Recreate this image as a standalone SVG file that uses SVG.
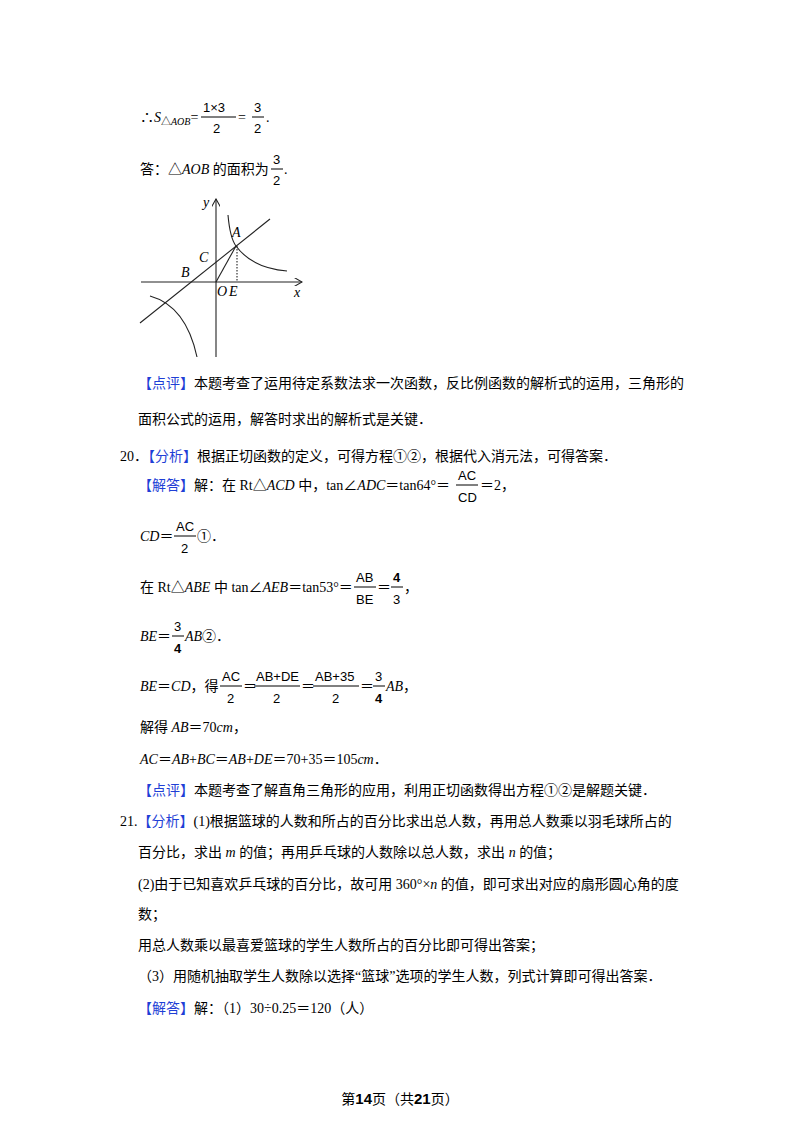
<svg xmlns="http://www.w3.org/2000/svg" width="800" height="1132" viewBox="0 0 800 1132">
<style>
text{font-family:"Liberation Serif","Noto Sans CJK SC",serif;font-size:14px;fill:#000}
.i{font-style:italic}
.b{fill:#1f3fd6}
.s{font-family:"Liberation Sans","Noto Sans CJK SC",sans-serif;font-size:13px}
.f{stroke:#000;stroke-width:1}
.g{fill:none;stroke:#222;stroke-width:1.1}
</style>
<rect width="800" height="1132" fill="#fff"/>
<g id="text1">
<text x="140" y="122">∴<tspan class="i">S</tspan><tspan font-size="10" dy="3">△<tspan class="i">AOB</tspan></tspan><tspan dy="-3">=</tspan></text>
<text x="203" y="112" class="s">1×3</text><line class="f" x1="201" y1="117" x2="236" y2="117"/><text x="213" y="133" class="s">2</text>
<text x="238" y="122">=</text>
<text x="254" y="112" class="s">3</text><line class="f" x1="252" y1="117" x2="264" y2="117"/><text x="254" y="133" class="s">2</text>
<text x="266" y="122">.</text>
<text x="140" y="174">答：△<tspan class="i">AOB</tspan> 的面积为</text>
<text x="273" y="164" class="s">3</text><line class="f" x1="271" y1="169" x2="283" y2="169"/><text x="273" y="185" class="s">2</text>
<text x="284" y="174">.</text>
</g>
<g id="graph">
<defs><marker id="ar" markerWidth="8" markerHeight="8" refX="7" refY="4" orient="auto"><path d="M0,0 L7,4 L0,8" fill="none" stroke="#222"/></marker></defs>
<line class="g" x1="141" y1="282" x2="302" y2="282" marker-end="url(#ar)"/>
<line class="g" x1="216" y1="357" x2="216" y2="199" marker-end="url(#ar)"/>
<line class="g" x1="140" y1="323" x2="270" y2="219"/>
<line class="g" x1="216" y1="282" x2="236" y2="246"/>
<line class="g" x1="237" y1="246" x2="237" y2="282" stroke-dasharray="1.5,1.5"/>
<path class="g" d="M228,215 Q230,238 236,246 Q252,268 287,271"/>
<path class="g" d="M150,296 Q186,306 197,357"/>
<text x="203" y="207" class="i" font-size="13">y</text>
<text x="232" y="237" class="i" font-size="12">A</text>
<text x="199" y="262" class="i" font-size="13">C</text>
<text x="181" y="277" class="i" font-size="13">B</text>
<text x="217" y="296" class="i" font-size="13">O</text>
<text x="229" y="296" class="i" font-size="13">E</text>
<text x="294" y="297" class="i" font-size="12">x</text>
</g>
<g id="text2">
<text x="138" y="388"><tspan class="b">【点评】</tspan>本题考查了运用待定系数法求一次函数，反比例函数的解析式的运用，三角形的</text>
<text x="138" y="424">面积公式的运用，解答时求出的解析式是关键．</text>
<text x="120" y="461">20．<tspan class="b">【分析】</tspan>根据正切函数的定义，可得方程①②，根据代入消元法，可得答案．</text>
<text x="138" y="490"><tspan class="b">【解答】</tspan>解：在 Rt△<tspan class="i">ACD</tspan> 中，tan∠<tspan class="i">ADC</tspan>＝tan64°＝</text>
<text x="458" y="480" class="s">AC</text><line class="f" x1="456" y1="485" x2="478" y2="485"/><text x="458" y="502" class="s">CD</text>
<text x="480" y="490">＝2，</text>
<text x="140" y="541"><tspan class="i">CD</tspan>＝</text>
<text x="176" y="531" class="s">AC</text><line class="f" x1="174" y1="536" x2="196" y2="536"/><text x="181" y="553" class="s">2</text>
<text x="197" y="541">①．</text>
<text x="140" y="592">在 Rt△<tspan class="i">ABE</tspan> 中 tan∠<tspan class="i">AEB</tspan>＝tan53°＝</text>
<text x="356" y="582" class="s">AB</text><line class="f" x1="354" y1="587" x2="376" y2="587"/><text x="356" y="604" class="s">BE</text>
<text x="377" y="592">＝</text>
<text x="393" y="582" class="s" font-weight="bold">4</text><line class="f" x1="391" y1="587" x2="403" y2="587"/><text x="393" y="604" class="s">3</text>
<text x="404" y="592">，</text>
<text x="140" y="641"><tspan class="i">BE</tspan>＝</text>
<text x="174" y="631" class="s">3</text><line class="f" x1="172" y1="636" x2="184" y2="636"/><text x="174" y="653" class="s" font-weight="bold">4</text>
<text x="185" y="641"><tspan class="i">AB</tspan>②．</text>
<text x="140" y="691"><tspan class="i">BE</tspan>＝<tspan class="i">CD</tspan>，得</text>
<text x="222" y="681" class="s">AC</text><line class="f" x1="220" y1="686" x2="242" y2="686"/><text x="227" y="703" class="s">2</text>
<text x="243" y="691">＝</text>
<text x="256" y="681" class="s">AB+DE</text><line class="f" x1="254" y1="686" x2="300" y2="686"/><text x="273" y="703" class="s">2</text>
<text x="301" y="691">＝</text>
<text x="315" y="681" class="s">AB+35</text><line class="f" x1="313" y1="686" x2="359" y2="686"/><text x="332" y="703" class="s">2</text>
<text x="360" y="691">＝</text>
<text x="375" y="681" class="s">3</text><line class="f" x1="373" y1="686" x2="385" y2="686"/><text x="375" y="703" class="s" font-weight="bold">4</text>
<text x="386" y="691"><tspan class="i">AB</tspan>，</text>
<text x="140" y="732">解得 <tspan class="i">AB</tspan>＝70<tspan class="i">cm</tspan>，</text>
<text x="140" y="764"><tspan class="i">AC</tspan>＝<tspan class="i">AB</tspan>+<tspan class="i">BC</tspan>＝<tspan class="i">AB</tspan>+<tspan class="i">DE</tspan>＝70+35＝105<tspan class="i">cm</tspan>．</text>
<text x="138" y="795"><tspan class="b">【点评】</tspan>本题考查了解直角三角形的应用，利用正切函数得出方程①②是解题关键．</text>
<text x="120" y="826">21.<tspan class="b">【分析】</tspan>(1)根据篮球的人数和所占的百分比求出总人数，再用总人数乘以羽毛球所占的</text>
<text x="138" y="857">百分比，求出 <tspan class="i">m</tspan> 的值；再用乒乓球的人数除以总人数，求出 <tspan class="i">n</tspan> 的值；</text>
<text x="138" y="889">(2)由于已知喜欢乒乓球的百分比，故可用 360°×<tspan class="i">n</tspan> 的值，即可求出对应的扇形圆心角的度</text>
<text x="138" y="919">数；</text>
<text x="138" y="950">用总人数乘以最喜爱篮球的学生人数所占的百分比即可得出答案；</text>
<text x="138" y="981">（3）用随机抽取学生人数除以选择“篮球”选项的学生人数，列式计算即可得出答案．</text>
<text x="138" y="1013"><tspan class="b">【解答】</tspan>解：（1）30÷0.25＝120（人）</text>
<text x="400" y="1104" text-anchor="middle" font-size="13">第<tspan font-weight="bold" font-size="15" font-family="Liberation Sans">14</tspan>页（共<tspan font-weight="bold" font-size="15" font-family="Liberation Sans">21</tspan>页）</text>
</g>
</svg>
